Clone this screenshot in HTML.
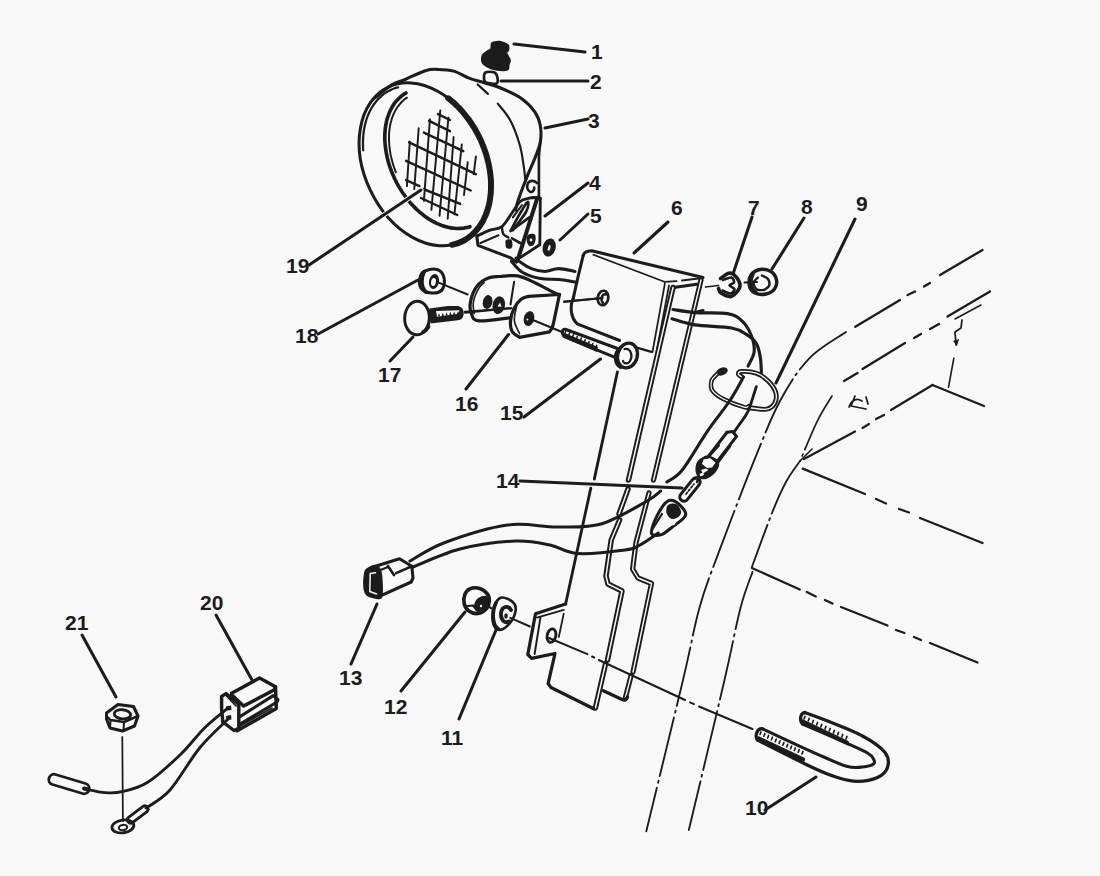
<!DOCTYPE html>
<html><head><meta charset="utf-8"><style>
html,body{margin:0;padding:0;background:#f8f8f8;}
svg{display:block;}
text{font-family:"Liberation Sans",sans-serif;font-weight:bold;fill:#1c1c1c;}
</style></head><body>
<svg width="1100" height="876" viewBox="0 0 1100 876">
<rect width="1100" height="876" fill="#f8f8f8"/>
<g fill="none" stroke="#1c1c1c" stroke-linecap="round" stroke-linejoin="round">
<ellipse cx="425.1" cy="164.3" rx="60.6" ry="85.5" transform="rotate(-25.5 425.1 164.3)" stroke-width="3.05" />
<path d="M448.3,98.3 C448.9,98.7 450.7,100.2 451.9,101.2 C453,102.2 454.2,103.2 455.4,104.3 C456.5,105.4 457.7,106.5 458.8,107.7 C459.9,108.8 461,110 462.1,111.2 C463.1,112.5 464.2,113.7 465.2,115 C466.2,116.3 467.2,117.6 468.2,118.9 C469.2,120.2 470.2,121.6 471.1,123 C472,124.3 472.9,125.7 473.8,127.2 C474.7,128.6 475.5,130 476.3,131.5 C477.2,133 477.9,134.5 478.7,136 C479.5,137.5 480.2,139 480.9,140.5 C481.6,142 482.2,143.6 482.8,145.2 C483.5,146.7 484.1,148.3 484.6,149.9 C485.2,151.4 485.7,153 486.2,154.6 C486.7,156.2 487.1,157.8 487.5,159.4 C488,161 488.3,162.6 488.7,164.2 C489,165.8 489.3,167.4 489.6,169 C489.9,170.6 490.1,172.2 490.3,173.8 C490.5,175.4 490.6,177 490.8,178.6 C490.9,180.1 491,181.7 491,183.3 C491,184.8 491,186.4 491,187.9 C491,189.4 490.9,191 490.8,192.5 C490.7,194 490.5,195.5 490.3,196.9 C490.1,198.4 489.9,199.8 489.7,201.3 C489.4,202.7 489.1,204.1 488.8,205.5 C488.4,206.9 488,208.2 487.6,209.6 C487.2,210.9 486.8,212.2 486.3,213.5 C485.8,214.7 485.3,216 484.7,217.2 C484.2,218.4 483.6,219.6 483,220.8 C482.3,221.9 481.7,223.1 481,224.1 C480.3,225.2 479.6,226.3 478.8,227.3 C478.1,228.3 477.3,229.3 476.5,230.2 C475.7,231.2 474.8,232.1 474,232.9 C473.1,233.8 472.2,234.6 471.3,235.4 C470.4,236.2 469.4,236.9 468.4,237.6 C467.4,238.3 466.4,239 465.4,239.6 C464.4,240.2 463.3,240.8 462.3,241.3 C461.2,241.8 460.1,242.3 459,242.7 C457.9,243.2 456.7,243.6 455.6,243.9 C454.4,244.2 452.7,244.6 452.1,244.8" stroke-width="5.95" />
<path d="M469.9,226.7 C469.5,226.8 468,227.3 467,227.5 C466,227.7 465,227.9 463.9,228.1 C462.9,228.2 461.8,228.3 460.8,228.4 C459.7,228.5 458.7,228.5 457.6,228.5 C456.5,228.5 455.4,228.4 454.3,228.3 C453.2,228.2 452.1,228.1 451,227.9 C449.9,227.7 448.8,227.5 447.7,227.2 C446.5,226.9 445.4,226.6 444.3,226.3 C443.2,225.9 442,225.5 440.9,225.1 C439.8,224.7 438.6,224.2 437.5,223.7 C436.4,223.2 435.3,222.6 434.1,222 C433,221.5 431.9,220.8 430.8,220.2 C429.7,219.5 428.6,218.8 427.5,218.1 C426.4,217.3 425.3,216.6 424.2,215.8 C423.2,214.9 422.1,214.1 421,213.2 C420,212.4 418.9,211.5 417.9,210.5 C416.9,209.6 415.9,208.6 414.9,207.6 C413.9,206.6 412.9,205.6 411.9,204.5 C411,203.5 410,202.4 409.1,201.3 C408.2,200.2 407.3,199 406.4,197.9 C405.5,196.7 404.6,195.5 403.8,194.3 C402.9,193.1 402.1,191.9 401.3,190.6 C400.5,189.4 399.7,188.1 399,186.9 C398.2,185.6 397.5,184.3 396.8,183 C396.1,181.6 395.5,180.3 394.8,179 C394.2,177.6 393.6,176.3 393,174.9 C392.4,173.6 391.8,172.2 391.3,170.8 C390.8,169.4 390.3,168 389.8,166.6 C389.4,165.2 388.9,163.8 388.5,162.4 C388.1,161 387.8,159.6 387.4,158.2 C387.1,156.8 386.8,155.4 386.5,154 C386.2,152.6 386,151.2 385.8,149.8 C385.6,148.5 385.4,147.1 385.3,145.7 C385.1,144.3 385,142.9 384.9,141.6 C384.9,140.2 384.8,138.9 384.8,137.5 C384.8,136.2 384.8,134.9 384.9,133.5 C385,132.2 385.1,130.9 385.2,129.7 C385.3,128.4 385.5,127.1 385.7,125.9 C385.9,124.6 386.1,123.4 386.4,122.2 C386.6,121 386.9,119.8 387.3,118.7 C387.6,117.5 388,116.4 388.4,115.3 C388.7,114.2 389.2,113.1 389.6,112 C390.1,111 390.6,110 391.1,109 C391.6,108 392.2,107 392.7,106.1 C393.3,105.1 393.9,104.2 394.5,103.4 C395.2,102.5 395.8,101.7 396.5,100.9 C397.2,100.1 397.9,99.3 398.7,98.6 C399.4,97.8 400.2,97.1 401,96.5 C401.8,95.8 402.6,95.2 403.4,94.6 C404.3,94 405.6,93.3 406,93" stroke-width="3.65" />
<path d="M395.9,172.3 C395.6,171.5 394.8,169.3 394.2,167.8 C393.7,166.2 393.2,164.7 392.8,163.2 C392.3,161.7 391.9,160.2 391.5,158.6 C391.2,157.1 390.8,155.6 390.5,154.1 C390.3,152.6 390,151.1 389.8,149.5 C389.6,148 389.4,146.5 389.3,145.1 C389.2,143.6 389.1,142.1 389,140.6 C389,139.2 389,137.7 389,136.3 C389,134.9 389.1,133.5 389.2,132.1 C389.3,130.7 389.5,129.3 389.7,128 C389.9,126.6 390.1,125.3 390.4,124 C390.7,122.7 391,121.4 391.4,120.2 C391.7,119 392.1,117.8 392.6,116.6 C393,115.4 393.5,114.3 394,113.2 C394.5,112.1 395.1,111 395.7,110 C396.2,109 396.9,108 397.5,107 C398.2,106.1 398.9,105.1 399.6,104.3 C400.3,103.4 401.1,102.6 401.9,101.8 C402.6,101 403.5,100.3 404.3,99.6 C405.2,98.9 406.5,98 407,97.7" stroke-width="1.95" />
<path d="M363.2,150.3 C363.2,149.5 363,147.2 363,145.7 C362.9,144.1 362.9,142.6 363,141.1 C363,139.6 363.1,138.1 363.2,136.6 C363.3,135.2 363.5,133.7 363.6,132.3 C363.8,130.8 364.1,129.4 364.3,128 C364.6,126.6 364.9,125.2 365.2,123.9 C365.6,122.5 365.9,121.2 366.3,119.9 C366.8,118.6 367.2,117.3 367.7,116.1 C368.2,114.9 368.7,113.6 369.2,112.5 C369.8,111.3 370.4,110.1 371,109 C371.6,107.9 372.2,106.8 372.9,105.8 C373.6,104.7 374.3,103.7 375.1,102.7 C375.8,101.8 376.6,100.8 377.4,99.9 C378.2,99 379,98.2 379.9,97.4 C380.8,96.5 381.7,95.8 382.6,95 C383.5,94.3 384.4,93.6 385.4,92.9 C386.4,92.3 387.4,91.7 388.4,91.1 C389.4,90.6 390.4,90 391.5,89.6 C392.6,89.1 393.6,88.7 394.7,88.3 C395.8,87.9 397.5,87.4 398.1,87.3" stroke-width="2.25" />
<path d="M375.1,97.7 C377.8,95.6 386.4,88.1 391.4,85.1 C396.4,82.1 399.5,81.9 405.2,79.5 C410.9,77.1 419.8,72.4 425.3,70.7 C430.8,69 433.3,69.3 438,69.4 C442.7,69.5 448.6,69.7 453.7,71.1 C458.8,72.5 463.6,76 468.5,77.9 C473.4,79.8 478.2,80.9 483.4,82.5 C488.5,84.1 493.1,84.9 499.4,87.5 C505.7,90.1 515.2,94.1 521.1,98.2 C527,102.3 531.6,107.3 534.8,111.9 C538,116.5 539.4,120.6 540.3,125.6 C541.2,130.6 541.2,136.6 540.3,142.1 C539.4,147.6 537.1,152.6 534.8,158.5 C532.5,164.4 529.3,170.8 526.6,177.7 C523.9,184.5 520.2,194.2 518.4,199.6 C516.6,205 516.1,208.3 515.6,210" stroke-width="3.05" />
<line x1="477.7" y1="84.5" x2="487.9" y2="93.9" stroke-width="2.25" />
<path d="M497.8,103.7 C499.9,106.4 506.5,113.2 510.1,120.1 C513.8,126.9 517.4,137 519.7,144.8 C522,152.6 522.9,161 523.8,166.7 C524.7,172.4 525,176.9 525.2,179" stroke-width="2.15" />
<path d="M540.3,142 L538.9,156 L538.9,197" stroke-width="2.65" />
<path d="M491.4,42.6 C492.9,41.3 496.5,40.5 499.4,40.8 C502.2,41.1 506.9,42.9 508.5,44.5 C510.1,46.1 509.3,49.1 509.1,50.5 C508.9,51.9 507.1,51.5 507.4,53 C507.7,54.5 510.4,57.7 510.8,59.7 C511.2,61.7 510.1,63.2 509.6,65 C509.1,66.8 510,69.5 507.9,70.5 C505.8,71.5 500.4,71.2 497.1,70.8 C493.8,70.4 490.6,69.3 488,68 C485.4,66.7 482.8,65.2 481.7,63.1 C480.6,61 480.8,57.2 481.7,55.1 C482.6,53 485.4,51.6 486.8,50.5 C488.2,49.4 489.4,49.8 490.2,48.5 C491,47.2 489.9,43.9 491.4,42.6 Z" fill="#1c1c1c" stroke="none" />
<path d="M485.5,72.5 C487.2,71.5 492,71.5 494,72.3 C496,73 496.9,75.1 497.3,77 C497.7,78.9 498.4,82.6 496.5,83.5 C494.6,84.4 488.1,83.4 486,82.5 C483.9,81.6 484.1,79.7 484,78 C483.9,76.3 483.8,73.5 485.5,72.5 Z" stroke-width="2.65" />
<line x1="409.8" y1="141.6" x2="406.9" y2="186.1" stroke-width="1.95" />
<line x1="418.7" y1="128.2" x2="414.3" y2="189" stroke-width="1.95" />
<line x1="429.9" y1="119.3" x2="423.9" y2="200.9" stroke-width="1.95" />
<line x1="440.3" y1="110.4" x2="431.4" y2="209.8" stroke-width="1.95" />
<line x1="448.4" y1="117.8" x2="439.5" y2="215.8" stroke-width="1.95" />
<line x1="453.6" y1="137.1" x2="447.7" y2="218.7" stroke-width="1.95" />
<line x1="461.8" y1="144.5" x2="454.4" y2="214.3" stroke-width="1.95" />
<line x1="467.7" y1="162.3" x2="464" y2="195" stroke-width="1.95" />
<line x1="475.9" y1="156.4" x2="473.7" y2="174.2" stroke-width="1.95" />
<line x1="438" y1="114.1" x2="450" y2="120" stroke-width="2.45" />
<line x1="429.1" y1="120.8" x2="450" y2="131.2" stroke-width="2.45" />
<line x1="423.9" y1="132.6" x2="463.3" y2="151.2" stroke-width="2.45" />
<line x1="409.1" y1="142.3" x2="475.9" y2="174.2" stroke-width="2.45" />
<line x1="406.1" y1="160.8" x2="470.7" y2="190.5" stroke-width="2.45" />
<line x1="406.1" y1="180.1" x2="419.5" y2="186.1" stroke-width="2.45" />
<line x1="423.2" y1="189" x2="460.3" y2="203.9" stroke-width="2.45" />
<line x1="421" y1="198" x2="457.3" y2="215" stroke-width="2.45" />
<path d="M540.3,198.2 L539.8,244.8 L520.2,257.6" stroke-width="2.85" />
<path d="M533,197.5 L540.3,198.2" stroke-width="2.85" />
<line x1="537" y1="199" x2="517.5" y2="260.5" stroke-width="4.05" />
<path d="M477,236 C479.2,235 485.9,231.8 490,230.2 C494.1,228.6 498.2,229.5 501.9,226.6 C505.6,223.7 508.9,217.2 512,213 C515,208.8 517.3,204 520.2,201.5 C523.1,199 526.4,198.9 529.3,198.2 C532.2,197.5 536.1,197.5 537.5,197.3" stroke-width="2.85" />
<path d="M501.9,226.6 C502.1,227.8 502.1,232.1 503.2,233.9 C504.3,235.7 507.4,236.9 508.3,237.5" stroke-width="2.45" />
<path d="M510.5,231 C511.8,228.7 515.3,221.7 518,217 C520.7,212.3 524.9,204.9 526.6,202.8 C528.3,200.7 528.5,203 528.4,204.5 C528.3,206 527.6,209.1 526,212 C524.4,214.9 521.2,219 519,222 C516.8,225 513.9,228.8 512.9,230.2" stroke-width="2.65" />
<line x1="512.9" y1="217.4" x2="522" y2="205" stroke-width="2.05" />
<line x1="511.9" y1="230.2" x2="529.3" y2="217.4" stroke-width="2.65" />
<path d="M506,240 C506.9,239.2 509.9,238.8 511,239.5 C512.1,240.2 512.5,243 512.5,244.5 C512.5,246 512,247.9 511,248.5 C510,249.1 507.4,248.8 506.5,248 C505.6,247.2 505.6,245.3 505.5,244 C505.4,242.7 505.1,240.8 506,240 Z" fill="#1c1c1c" stroke="none" />
<line x1="512" y1="238.4" x2="520.2" y2="243" stroke-width="2.65" />
<path d="M528,235 C529.2,233.8 532.7,233.5 534,234 C535.3,234.5 535.7,236.2 535.7,238 C535.7,239.8 535,243.2 534,244.5 C533,245.8 530.7,246.6 529.5,246 C528.3,245.4 527,242.8 526.8,241 C526.5,239.2 526.8,236.2 528,235 Z" fill="#1c1c1c" stroke="none" />
<circle cx="531" cy="240" r="1.4" fill="#f8f8f8" stroke="none"/>
<path d="M476.8,236.2 L478,245.3 L510.1,257.6 L516.5,262.2" stroke-width="3.05" />
<line x1="480.5" y1="243" x2="498.5" y2="235.2" stroke-width="2.05" />
<ellipse cx="549.2" cy="247.5" rx="6.4" ry="9.2" transform="rotate(15 549.2 247.5)" fill="#1c1c1c" stroke="none"/>
<ellipse cx="549.2" cy="247.8" rx="1.3" ry="3" transform="rotate(15 549.2 247.8)" fill="#f8f8f8" stroke="none"/>
<path d="M536.9,183 C535,180.5 529.5,179.5 527.8,183.5 C526.5,186.5 527,190.5 530.4,191.9 C532.5,192.5 534.5,190 534.2,187.5" stroke-width="2.65" />
<line x1="529.4" y1="172" x2="524.5" y2="184" stroke-width="1.85" />
<path d="M583.2,255.5 Q584.5,251 591.7,250.8 L703,277.5" stroke-width="3.05" />
<path d="M583.2,255.5 C582.3,259.1 579.7,269.8 578,277 C576.3,284.2 574,295.1 573.2,298.7" stroke-width="3.05" />
<path d="M573.2,298.7 C570,305 570,318 577.8,324.2 L619.6,340.5" stroke-width="3.05" />
<line x1="593.3" y1="254.7" x2="664.4" y2="281.7" stroke-width="1.75" />
<path d="M664.4,281.9 L676.6,281.2" stroke-width="1.75" />
<path d="M682,280.5 L698.5,278.5" stroke-width="2.05" />
<path d="M673.8,287.4 L698.5,284" stroke-width="3.05" />
<ellipse cx="603" cy="298" rx="5.3" ry="7.3" transform="rotate(10 603 298)" stroke-width="2.65" />
<path d="M606,294.5 C602,293.5 600,299 603,303" stroke-width="2.45" />
<line x1="563.9" y1="301.8" x2="602.5" y2="298" stroke-width="2.05" />
<line x1="664.9" y1="283.3" x2="652.5" y2="352" stroke-width="1.75" />
<line x1="669" y1="285.5" x2="656.5" y2="352" stroke-width="1.75" />
<path d="M673,287.5 L628.5,480" stroke-width="5.45" />
<path d="M673,287.5 L628.5,480" stroke-width="1.5" stroke="#f8f8f8"/>
<path d="M628,489 L619,514" stroke-width="5.45" />
<path d="M628,489 L619,514" stroke-width="1.5" stroke="#f8f8f8"/>
<path d="M619.6,520 L611.2,540 L606,576 L608,584 L622,591 L607.5,660" stroke-width="5.45" />
<path d="M619.6,520 L611.2,540 L606,576 L608,584 L622,591 L607.5,660" stroke-width="1.5" stroke="#f8f8f8"/>
<path d="M605.5,664 L595.4,708" stroke-width="5.45" />
<path d="M605.5,664 L595.4,708" stroke-width="1.5" stroke="#f8f8f8"/>
<path d="M701,280 L653.5,480" stroke-width="5.25" />
<path d="M701,280 L653.5,480" stroke-width="1.4" stroke="#f8f8f8"/>
<path d="M649,493 L636,542.6 L632.6,569.1 L638,578 L651.5,583.5 L633,672" stroke-width="5.25" />
<path d="M649,493 L636,542.6 L632.6,569.1 L638,578 L651.5,583.5 L633,672" stroke-width="1.4" stroke="#f8f8f8"/>
<path d="M631,676 L625.1,698.8" stroke-width="5.25" />
<path d="M631,676 L625.1,698.8" stroke-width="1.4" stroke="#f8f8f8"/>
<line x1="617.4" y1="372" x2="594.3" y2="479.1" stroke-width="2.85" />
<line x1="590.8" y1="488.1" x2="565.6" y2="604" stroke-width="2.85" />
<path d="M565.6,604 L535.5,613.7 L527.8,654.5 L531.6,658.4 L555,653.5 L548.1,683.6 L551,687.5 L593.7,708.8" stroke-width="3.25" />
<line x1="537" y1="617.6" x2="563.7" y2="609.9" stroke-width="1.95" />
<line x1="540.4" y1="617.6" x2="534.6" y2="654" stroke-width="1.95" />
<line x1="563.7" y1="613.7" x2="558.8" y2="637" stroke-width="1.75" />
<ellipse cx="551.5" cy="635.6" rx="4.3" ry="6.8" transform="rotate(12 551.5 635.6)" stroke-width="2.85" />
<path d="M603.4,690.8 L622,699.5 Q626,701 627.5,697" stroke-width="3.45" />
<path d="M616.8,348.2 L566,329.5 Q561.8,328.5 562.5,333.5 Q563,336 565,336.8 L615,357.3" stroke-width="3.05" />
<path d="M563.5,332.5 L598,347 L597,352 L564.5,338 Z" fill="#1c1c1c" stroke="none" />
<line x1="565.0" y1="333.2" x2="565.8" y2="331.0" stroke-width="1.55" />
<line x1="568.875" y1="334.97499999999997" x2="569.675" y2="332.775" stroke-width="1.55" />
<line x1="572.75" y1="336.75" x2="573.55" y2="334.55" stroke-width="1.55" />
<line x1="576.625" y1="338.525" x2="577.425" y2="336.325" stroke-width="1.55" />
<line x1="580.5" y1="340.3" x2="581.3" y2="338.1" stroke-width="1.55" />
<line x1="584.375" y1="342.075" x2="585.175" y2="339.875" stroke-width="1.55" />
<line x1="588.25" y1="343.84999999999997" x2="589.05" y2="341.65" stroke-width="1.55" />
<line x1="592.125" y1="345.625" x2="592.925" y2="343.425" stroke-width="1.55" />
<line x1="596.0" y1="347.4" x2="596.8" y2="345.2" stroke-width="1.55" />
<ellipse cx="627.5" cy="355.5" rx="9.8" ry="12.6" transform="rotate(15 627.5 355.5)" stroke-width="3.25" />
<path d="M620,348 C613.5,353 614,364 620.5,367.5" stroke-width="3.05" />
<path d="M624.5,349 C631,347.5 633,356 630,361 C628,364.5 624,364 623,361" stroke-width="2.25" />
<line x1="635.9" y1="347.3" x2="651.4" y2="351.8" stroke-width="2.25" />
<path d="M510.5,317.8 C505.2,318.3 485.1,321.6 478.6,320.9 C472.1,320.2 472.8,316.8 471.4,313.6 C470,310.4 469.6,306.3 470.5,301.8 C471.4,297.3 473.9,290.3 476.8,286.4 C479.7,282.5 483.8,279.8 487.7,278.2 C491.6,276.6 495,276.9 500,276.5 C505,276.1 511.7,274.8 517.7,275.9 C523.7,277 529.8,280.4 535.9,283.2 C542,286 550.2,290.8 554.1,292.7 C558,294.6 558.6,294.2 559.5,294.5" stroke-width="3.25" />
<path d="M474.1,313.6 C474,311.6 472.6,306 473.4,301.8 C474.1,297.6 476.8,291.8 478.6,288.6 C480.4,285.4 483.2,283.7 484.1,282.7" stroke-width="1.65" />
<path d="M528.6,296.4 C527.4,296.8 523.8,297.1 521.4,299.1 C519,301.1 515.9,304.6 514.1,308.2 C512.3,311.8 510.8,317 510.5,320.9 C510.2,324.8 510.8,329.1 512.3,331.8 C513.8,334.5 518.3,336.4 519.5,337.3 L549.5,331.8 Q552,329 553.2,324.5 L559.5,294.5 Z" stroke-width="3.25" />
<path d="M516.5,306.4 C516.1,308.8 513.9,316.4 514.4,320.9 C514.9,325.4 518.6,331.5 519.5,333.6" stroke-width="1.65" />
<ellipse cx="487.6" cy="302" rx="4.8" ry="7" transform="rotate(12 487.6 302)" fill="#1c1c1c" stroke="none"/>
<ellipse cx="498.8" cy="305.2" rx="6.2" ry="9" transform="rotate(12 498.8 305.2)" fill="#1c1c1c" stroke="none"/>
<path d="M497.5,306.5 L500,302.5 L501.5,306.8 Z" fill="#f8f8f8" stroke="none"/>
<ellipse cx="529" cy="318.6" rx="5.2" ry="7.5" transform="rotate(15 529 318.6)" fill="#1c1c1c" stroke="none"/>
<circle cx="527.5" cy="319.5" r="1" fill="#f8f8f8" stroke="none"/>
<line x1="514.1" y1="281.8" x2="510.5" y2="304.5" stroke-width="2.05" />
<line x1="465" y1="311.8" x2="510.5" y2="308.2" stroke-width="2.05" />
<line x1="528.6" y1="318.2" x2="561.4" y2="331.8" stroke-width="2.05" />
<line x1="564.1" y1="301.8" x2="602.5" y2="298" stroke-width="2.05" />
<ellipse cx="417" cy="318" rx="12.3" ry="16.8" transform="rotate(3 417 318)" stroke-width="2.95" />
<path d="M421.5,331 C425,329 427.5,326 429,322 L430.5,327 C428.5,331 425,334 420.5,335 Z" fill="#1c1c1c" stroke="none" />
<path d="M429.3,308.4 L447.8,306.1 L458,306 Q464,307 463.7,314 Q463,320 458,320.2 L430.6,323.5 Q428.5,316 429.3,308.4 Z" fill="#1c1c1c" stroke="none" />
<path d="M436,311 L459.5,310.3 L458.5,313.8 L437,316.8 Z" fill="#f8f8f8" stroke="none"/>
<path d="M437.8,316.6 L440.2,316.3 L439.0,313.2 Z" fill="#1c1c1c" stroke="none"/>
<path d="M441.6,316.15000000000003 L444.0,315.85 L442.8,312.75 Z" fill="#1c1c1c" stroke="none"/>
<path d="M445.40000000000003,315.70000000000005 L447.8,315.40000000000003 L446.6,312.3 Z" fill="#1c1c1c" stroke="none"/>
<path d="M449.2,315.25 L451.59999999999997,314.95 L450.4,311.84999999999997 Z" fill="#1c1c1c" stroke="none"/>
<path d="M453.0,314.8 L455.4,314.5 L454.2,311.4 Z" fill="#1c1c1c" stroke="none"/>
<path d="M456.8,314.35 L459.2,314.05 L458.0,310.95 Z" fill="#1c1c1c" stroke="none"/>
<line x1="465" y1="312.7" x2="511.4" y2="308.2" stroke-width="1.95" />
<path d="M425,271 C427.8,269.9 433.9,268.7 437,269.5 C440.1,270.3 442.4,273.1 443.5,276 C444.6,278.9 444.4,284.2 443.5,287 C442.6,289.8 440.9,291.7 438,292.5 C435.1,293.3 429,293.1 426,292 C423,290.9 420.9,288.7 420,286 C419.1,283.3 419.7,278.5 420.5,276 C421.3,273.5 422.2,272.1 425,271 Z" stroke-width="3.05" />
<ellipse cx="434" cy="281.5" rx="5" ry="7.5" transform="rotate(10 434 281.5)" fill="#1c1c1c" stroke="none"/>
<ellipse cx="433.5" cy="282" rx="2.4" ry="4" transform="rotate(10 433.5 282)" fill="#f8f8f8" stroke="none"/>
<path d="M424,272 C420.5,278 421,288 426,292" stroke-width="3.85" />
<line x1="436.8" y1="281.8" x2="467.7" y2="294.5" stroke-width="1.95" />
<path d="M516,258 C516.6,258.6 516.9,259.6 519.5,261.4 C522.1,263.2 527.1,266.9 531.4,268.6 C535.6,270.3 540.5,271.4 545,271.4 C549.5,271.4 553.6,268.6 558.6,268.6 C563.6,268.6 572.3,270.9 575,271.4" stroke-width="3.05" />
<path d="M511.4,261.4 C513.2,263.2 517.4,269.4 522.3,272.3 C527.1,275.2 534.5,277.4 540.5,278.6 C546.5,279.8 552.6,278.9 558.6,279.5 C564.6,280.1 573.8,281.8 576.8,282.3" stroke-width="3.05" />
<path d="M720.5,278.5 C722.1,277.6 727.1,272.8 730,273 C732.9,273.2 736.4,277 738,279.5 C739.6,282 740.7,285.2 739.5,288 C738.3,290.8 734.1,295.7 731,296.5 C727.9,297.3 723.1,294.3 721,293 C718.9,291.7 718.9,289.2 718.5,288.5" stroke-width="3.65" />
<path d="M723,280 C724.4,279.6 729.7,277.1 731.5,277.5 C733.3,277.9 734.3,281.2 734,282.5 C733.7,283.8 729.4,284.4 729.5,285.5 C729.6,286.6 734.3,287.7 734.5,289 C734.7,290.3 732.5,293.2 730.5,293.5 C728.5,293.8 723.8,291 722.5,290.5" stroke-width="2.65" />
<line x1="705.5" y1="287" x2="718.5" y2="285.5" stroke-width="1.75" />
<path d="M760,269.5 C763.3,268.9 768.2,269.8 771,271.5 C773.8,273.2 775.9,277.1 776.5,280 C777.1,282.9 776.2,286.7 774.5,289 C772.8,291.3 769.2,293.3 766,294 C762.8,294.7 757.8,294.3 755,293 C752.2,291.7 750.2,289 749.5,286 C748.8,283 749.2,277.8 751,275 C752.8,272.2 756.7,270.1 760,269.5 Z" stroke-width="3.45" />
<path d="M753,274 C749.5,280 750,288 756,292.5" stroke-width="3.65" />
<path d="M762,275.5 C763,276.1 766.8,277.2 768,279 C769.2,280.8 769.7,284.2 769,286 C768.3,287.8 764.8,289.3 764,290" stroke-width="2.45" />
<path d="M758,277.5 C757.2,278.3 753.7,280.5 753.5,282.5 C753.3,284.5 755.2,288.2 757,289.5 C758.8,290.8 762.8,289.9 764,290" stroke-width="2.25" />
<line x1="744.5" y1="282.5" x2="757" y2="282" stroke-width="1.95" />
<path d="M673,309.5 C676.6,310 685.6,311.9 694.7,312.6 C703.8,313.3 719.6,312.2 727.5,313.6 C735.4,315 737.9,317.2 741.9,320.8 C745.9,324.4 749.2,330.1 751.2,335.2 C753.2,340.3 754.7,346.5 754.2,351.6 C753.7,356.7 749.1,363.6 748.1,366" stroke-width="3.15" />
<path d="M672,318.8 C675.8,319.8 684.8,323.4 694.7,324.9 C704.6,326.4 723.1,326.4 731.6,328 C740.1,329.6 741.9,331.6 746,334.2 C750.1,336.8 753.9,339.5 756.3,343.4 C758.7,347.3 759.5,352.9 760.4,357.8 C761.2,362.7 761.2,370.5 761.4,373" stroke-width="3.15" />
<path d="M703,310.5 L694.7,312.6" stroke-width="3.15" />
<path d="M748,407.5 C751.1,407.8 762.1,409.9 766.6,409.2 C771.1,408.4 773.3,405.8 774.8,403 C776.3,400.2 776.8,396.3 775.8,392.7 C774.8,389.1 771.9,384.6 768.6,381.4 C765.4,378.1 760.9,374.8 756.3,373.2 C751.7,371.6 744,371.3 741,371.5 C738,371.7 738.3,373.6 738.5,374.5 C738.7,375.4 741.4,376.6 742,377" stroke-width="4.85" />
<path d="M748,407.5 C751.1,407.8 762.1,409.9 766.6,409.2 C771.1,408.4 773.3,405.8 774.8,403 C776.3,400.2 776.8,396.3 775.8,392.7 C774.8,389.1 771.9,384.6 768.6,381.4 C765.4,378.1 760.9,374.8 756.3,373.2 C751.7,371.6 744,371.3 741,371.5 C738,371.7 738.3,373.6 738.5,374.5 C738.7,375.4 741.4,376.6 742,377" stroke-width="1.3" stroke="#f8f8f8"/>
<ellipse cx="722" cy="371.5" rx="6" ry="3.8" transform="rotate(-20 722 371.5)" fill="#1c1c1c" stroke="none"/>
<path d="M717,374 C716.1,375.2 712.2,378.2 711.5,381 C710.8,383.8 710.5,387.7 712.5,390.7 C714.5,393.7 718.1,396.3 723.4,399 C728.6,401.7 739.7,405.9 744,407.1 C748.3,408.3 748.2,406.2 749,406" stroke-width="4.45" />
<path d="M717,374 C716.1,375.2 712.2,378.2 711.5,381 C710.8,383.8 710.5,387.7 712.5,390.7 C714.5,393.7 718.1,396.3 723.4,399 C728.6,401.7 739.7,405.9 744,407.1 C748.3,408.3 748.2,406.2 749,406" stroke-width="1.2" stroke="#f8f8f8"/>
<path d="M743.5,377 C741.2,381 735.7,391.9 729.6,401 C723.5,410.1 714.9,420.3 707,431.8 C699.1,443.3 689,461.6 682.3,470 C675.6,478.4 669.4,480 666.8,482" stroke-width="3.05" />
<path d="M756.3,386.6 C754.9,390.7 751,404.8 748.1,411.2 C745.2,417.6 741.4,421.5 739,425 C736.6,428.5 734.7,431.1 733.8,432.3" stroke-width="2.85" />
<path d="M727,432.3 L732.5,431.6 L736.6,436.4 L717.4,461.1" stroke-width="3.05" />
<path d="M727,432.3 L708.5,456.3" stroke-width="3.05" />
<path d="M703,457 C705,455.9 706.6,455 709,455.5 C711.4,456 715.8,458.2 717.5,460 C719.2,461.8 719.6,463.7 719,466 C718.4,468.3 716.2,471.8 714,474 C711.8,476.2 708.5,478.3 706,479 C703.5,479.7 700.8,479.3 699,478 C697.2,476.7 695.8,473.7 695.5,471 C695.2,468.3 695.8,464.3 697,462 C698.2,459.7 701,458.1 703,457 Z" fill="#1c1c1c" stroke="none" />
<path d="M703.5,459.5 L710,458 L715.5,462.5 L712,467.5 L707,468 L702,464 Z" fill="#f8f8f8" stroke="none"/>
<path d="M701,470 L706,468.5 L708.5,470 L703,473.5 Z" fill="#f8f8f8" stroke="none"/>
<path d="M699.5,474 L703,472.5 L704,475 L700.5,476.5 Z" fill="#f8f8f8" stroke="none"/>
<path d="M687.3,499.6 L699.3,484.6 A4.2,4.2 0 0 0 692.7,479.4 L680.7,494.4 A4.2,4.2 0 0 0 687.3,499.6 Z" stroke-width="3.05" />
<path d="M686,494 L694,484" stroke-width="1.75" stroke-dasharray="2 2"/>
<path d="M694.5,479 L699,476.5 L697,482" stroke-width="2.45" />
<path d="M718.5,445.5 L708,457" stroke-width="2.85" />
<path d="M730,446 L717.5,463" stroke-width="2.85" />
<path d="M666.3,502.1 C669.2,499.6 671.4,499.9 674.3,501 C677.1,502.1 681.5,506.7 683.4,509 C685.3,511.3 686.1,512.8 685.7,514.7 C685.3,516.6 683.4,518.3 681.1,520.4 C678.8,522.5 675,524.9 672,527.2 C669,529.5 665.7,532.8 662.8,534.1 C659.9,535.4 656.7,535.6 654.8,535.2 C652.9,534.8 651,535 651.4,531.8 C651.8,528.6 654.6,520.8 657.1,515.8 C659.6,510.8 663.4,504.6 666.3,502.1 Z" stroke-width="3.05" />
<path d="M668,505 C669.6,503.5 673.8,503 676,504 C678.2,505 680.5,508.9 681,511 C681.5,513.1 680.5,515.2 679,516.5 C677.5,517.8 674.1,519.6 672,519 C669.9,518.4 667.2,515.3 666.5,513 C665.8,510.7 666.4,506.5 668,505 Z" fill="#1c1c1c" stroke="none" />
<path d="M672.5,520 L678.5,517.5 L674.5,525 L669,526 Z" fill="#f8f8f8" stroke="none"/>
<line x1="662" y1="514" x2="652.5" y2="529" stroke-width="2.25" />
<path d="M410,561 C415.8,557.9 428.8,548.5 445,542.5 C461.2,536.5 488.8,527.6 507.5,525 C526.2,522.4 541.9,527.2 557.5,527 C573.1,526.8 586.2,528.2 601,524 C615.8,519.8 636.3,507 646.3,501.5 C656.2,496 658.3,492.8 660.7,491" stroke-width="3.05" />
<path d="M413,567 C420.8,564 443,553.3 460,549 C477,544.7 500,541.7 515,541 C530,540.3 539.6,542.9 550,545 C560.4,547.1 565,552.7 577.5,553.5 C590,554.3 614.6,551.4 625,550 C635.4,548.6 634.5,547.8 640,545 C645.5,542.2 655.2,535 658.3,533" stroke-width="3.05" />
<path d="M367.3,569.7 C369,568.4 373.3,565.8 375.5,566.2 C377.7,566.7 379.3,567.7 380.3,572.4 C381.3,577.1 381.8,590.1 381.4,594.3 C380.9,598.5 380,597.7 377.6,597.7 C375.2,597.7 369.5,596.2 367.3,594.3 C365.1,592.4 364.9,589.5 364.6,586.1 C364.3,582.7 364.9,576.5 365.3,573.8 C365.8,571.1 365.6,571 367.3,569.7 Z" fill="#1c1c1c" stroke="none" />
<path d="M367.3,569.7 C369,568.4 373.3,565.8 375.5,566.2 C377.7,566.7 379.3,567.7 380.3,572.4 C381.3,577.1 381.8,590.1 381.4,594.3 C380.9,598.5 380,597.7 377.6,597.7 C375.2,597.7 369.5,596.2 367.3,594.3 C365.1,592.4 364.9,589.5 364.6,586.1 C364.3,582.7 364.9,576.5 365.3,573.8 C365.8,571.1 365.6,571 367.3,569.7 Z" stroke-width="2.85" />
<path d="M375.5,572.8 L370.2,573.5 L369.8,591.5 L376.5,594" stroke-width="1.5" stroke="#f8f8f8"/>
<path d="M375.5,566.2 L399.5,558.7 L411.8,566.2 L413,578 L411.2,582 L381,595.7" stroke-width="3.05" />
<line x1="396.1" y1="573.1" x2="411.8" y2="566.2" stroke-width="2.65" />
<path d="M387.9,566 L394,575" stroke-width="2.65" />
<line x1="378" y1="571" x2="388" y2="567" stroke-width="1.95" />
<path d="M469.8,588.9 C472.3,587.8 476.8,587.6 479.7,588.4 C482.6,589.2 485.7,591.7 487.3,593.8 C488.9,595.9 489.4,598.5 489.2,601 C489,603.5 487.9,607 486,609.1 C484.1,611.2 480.8,613.2 477.9,613.5 C475,613.8 471.2,612.5 468.9,610.9 C466.6,609.3 464.9,606.4 464.2,603.7 C463.5,601 463.9,597.2 464.8,594.7 C465.7,592.2 467.3,590 469.8,588.9 Z" stroke-width="3.65" />
<path d="M477,599 C479,597.2 483.9,595.3 486,596 C488.1,596.7 489.5,600.8 489.5,603 C489.5,605.2 487.8,607.9 486,609.5 C484.2,611.1 480.5,612.9 478.5,612.5 C476.5,612.1 474.2,609.2 474,607 C473.8,604.8 475,600.8 477,599 Z" fill="#1c1c1c" stroke="none" />
<circle cx="481" cy="606" r="1.2" fill="#f8f8f8" stroke="none"/>
<path d="M467.5,606 L473,605.5 L476,609" stroke-width="2.25" />
<line x1="484.1" y1="603.3" x2="491.4" y2="608.4" stroke-width="1.95" />
<path d="M500,598 C502.3,596.7 505.6,598 508,599 C510.4,600 513.2,601.9 514.5,604 C515.8,606.1 516,608.7 515.5,611.5 C515,614.3 513.6,618.1 511.5,621 C509.4,623.9 505.7,627.8 503,629 C500.3,630.2 497.2,629.7 495.5,628 C493.8,626.3 492.8,622.5 492.5,619 C492.2,615.5 492.8,610.5 494,607 C495.2,603.5 497.7,599.3 500,598 Z" stroke-width="2.65" />
<path d="M496,603 C491.5,612 492.5,625 498,628.5" stroke-width="3.65" />
<path d="M511,610 C508,605 502,606 501,613 C500.5,620 505,624 509,621.5" stroke-width="3.85" />
<ellipse cx="506" cy="616" rx="1.8" ry="2.8" fill="#1c1c1c" stroke="none"/>
<line x1="510.3" y1="617.8" x2="529.9" y2="626.5" stroke-width="1.95" />
<line x1="549.1" y1="638" x2="587.4" y2="654.2" stroke-width="1.95" />
<line x1="592" y1="656.5" x2="594.2" y2="657.5" stroke-width="1.95" />
<line x1="598.8" y1="660" x2="685" y2="700" stroke-width="1.95" />
<line x1="690" y1="702.3" x2="694" y2="704.2" stroke-width="1.95" />
<line x1="699" y1="706.5" x2="752.5" y2="729" stroke-width="1.95" />
<path d="M757.5,740 C766.7,744.6 799.2,761.2 812.5,767.5 C825.8,773.8 830,775.2 837.5,777.5 C845,779.8 850.8,781.3 857.5,781.3 C864.2,781.3 872.5,779.8 877.5,777.5 C882.5,775.2 886.2,771.7 887.5,767.5 C888.8,763.3 889.2,757.8 885,752.5 C880.8,747.2 872.5,741.4 862.5,736 C852.5,730.6 834.6,723.9 825,720 C815.4,716.1 808.3,713.8 805,712.5" stroke-width="3.25" />
<path d="M805,712.5 C800.5,712.5 799,720 802.5,724" stroke-width="3.25" />
<path d="M802.5,724 C809.6,727.1 834.2,737.7 845,742.5 C855.8,747.3 862.8,750.2 867.5,753 C872.2,755.8 872.5,757.2 873.5,759 C874.5,760.8 875.3,762.7 873.5,764 C871.7,765.3 866.8,766.6 862.5,767 C858.2,767.4 853.8,768.1 847.5,766.5 C841.2,764.9 832.9,760.9 825,757.5 C817.1,754.1 810.4,751.1 800,746.3 C789.6,741.5 768.8,731.7 762.5,728.8" stroke-width="3.05" />
<path d="M762.5,728.8 C757,728 754.5,736 757.5,740" stroke-width="3.25" />
<path d="M758.5,738.5 L803,759.5" stroke-width="4.25" />
<line x1="760.0" y1="734.5" x2="761.0" y2="731.9" stroke-width="1.65" />
<line x1="763.8181818181819" y1="736.2727272727273" x2="764.8181818181819" y2="733.6727272727272" stroke-width="1.65" />
<line x1="767.6363636363636" y1="738.0454545454545" x2="768.6363636363636" y2="735.4454545454545" stroke-width="1.65" />
<line x1="771.4545454545455" y1="739.8181818181819" x2="772.4545454545455" y2="737.2181818181818" stroke-width="1.65" />
<line x1="775.2727272727273" y1="741.5909090909091" x2="776.2727272727273" y2="738.9909090909091" stroke-width="1.65" />
<line x1="779.0909090909091" y1="743.3636363636364" x2="780.0909090909091" y2="740.7636363636364" stroke-width="1.65" />
<line x1="782.9090909090909" y1="745.1363636363636" x2="783.9090909090909" y2="742.5363636363636" stroke-width="1.65" />
<line x1="786.7272727272727" y1="746.9090909090909" x2="787.7272727272727" y2="744.3090909090909" stroke-width="1.65" />
<line x1="790.5454545454545" y1="748.6818181818181" x2="791.5454545454545" y2="746.0818181818181" stroke-width="1.65" />
<line x1="794.3636363636364" y1="750.4545454545455" x2="795.3636363636364" y2="747.8545454545455" stroke-width="1.65" />
<line x1="798.1818181818181" y1="752.2272727272727" x2="799.1818181818181" y2="749.6272727272727" stroke-width="1.65" />
<line x1="802.0" y1="754.0" x2="803.0" y2="751.4" stroke-width="1.65" />
<path d="M803,721.5 L847,742.5" stroke-width="3.85" />
<line x1="804.0" y1="719.0" x2="805.0" y2="716.4" stroke-width="1.65" />
<line x1="808.2" y1="721.0" x2="809.2" y2="718.4" stroke-width="1.65" />
<line x1="812.4" y1="723.0" x2="813.4" y2="720.4" stroke-width="1.65" />
<line x1="816.6" y1="725.0" x2="817.6" y2="722.4" stroke-width="1.65" />
<line x1="820.8" y1="727.0" x2="821.8" y2="724.4" stroke-width="1.65" />
<line x1="825.0" y1="729.0" x2="826.0" y2="726.4" stroke-width="1.65" />
<line x1="829.2" y1="731.0" x2="830.2" y2="728.4" stroke-width="1.65" />
<line x1="833.4" y1="733.0" x2="834.4" y2="730.4" stroke-width="1.65" />
<line x1="837.6" y1="735.0" x2="838.6" y2="732.4" stroke-width="1.65" />
<line x1="841.8" y1="737.0" x2="842.8" y2="734.4" stroke-width="1.65" />
<line x1="846.0" y1="739.0" x2="847.0" y2="736.4" stroke-width="1.65" />
<line x1="982.5" y1="250" x2="940" y2="275" stroke-width="2.35" />
<line x1="930" y1="283" x2="924" y2="286.5" stroke-width="2.35" />
<line x1="915" y1="291.5" x2="907.5" y2="295" stroke-width="2.35" />
<line x1="900" y1="300" x2="855.3" y2="326.8" stroke-width="2.35" />
<path d="M846,332 C839.9,336.4 820.2,346.9 809.3,358.3 C798.4,369.7 789.6,383.2 780.4,400.3 C771.2,417.4 764.6,434.9 754.1,460.7 C743.6,486.5 726.7,530.8 717.6,555.3 C708.5,579.8 705.2,587.1 699.4,607.9 C693.6,628.7 691.9,642.8 683,680 C674.1,717.2 652.4,806.1 646.3,831.3" stroke-width="1.85" stroke-dasharray="60 5 2 5"/>
<line x1="990" y1="291.5" x2="947.5" y2="316.5" stroke-width="2.35" />
<line x1="939" y1="324" x2="930" y2="329" stroke-width="2.35" />
<line x1="921" y1="334" x2="914" y2="338" stroke-width="2.35" />
<line x1="905" y1="343" x2="862.5" y2="369" stroke-width="2.35" />
<line x1="857.5" y1="373" x2="844" y2="381" stroke-width="2.35" />
<path d="M832,396 C829.5,400.2 822.5,410.5 817.2,421.3 C811.9,432.1 802.9,454.4 800,461" stroke-width="1.65" stroke-dasharray="60 5 2 5"/>
<path d="M800,461 C797.7,464.5 790.6,473.5 786,482 C781.4,490.5 778.1,497.8 772.4,512 C766.7,526.2 755.3,557.8 751.9,567" stroke-width="1.85" stroke-dasharray="60 5 2 5"/>
<path d="M752.5,572 C750.5,578 745.2,589.9 740.5,607.9 C735.8,625.9 733.1,643 724.5,680 C715.9,717 694.8,805 688.8,830" stroke-width="1.85" stroke-dasharray="60 5 2 5"/>
<line x1="800" y1="461" x2="812" y2="449" stroke-width="1.65" />
<line x1="984" y1="406" x2="932.5" y2="385" stroke-width="2.25" />
<line x1="932.5" y1="385" x2="891" y2="410" stroke-width="2.25" />
<line x1="884" y1="415" x2="876" y2="419" stroke-width="2.25" />
<line x1="869" y1="424" x2="862.5" y2="428" stroke-width="2.25" />
<line x1="855" y1="431.5" x2="804" y2="459" stroke-width="2.25" />
<line x1="802.7" y1="468.6" x2="865" y2="494" stroke-width="2.25" />
<line x1="876" y1="499" x2="886" y2="503.5" stroke-width="2.25" />
<line x1="899" y1="509" x2="909" y2="512.5" stroke-width="2.25" />
<line x1="920" y1="518" x2="982.5" y2="543" stroke-width="2.25" />
<line x1="751.9" y1="567.9" x2="799.8" y2="589.6" stroke-width="2.25" />
<line x1="806.7" y1="591.9" x2="815.8" y2="596.4" stroke-width="2.25" />
<line x1="824.9" y1="599.9" x2="832.5" y2="603.5" stroke-width="2.25" />
<line x1="841" y1="607" x2="887.5" y2="625.5" stroke-width="2.25" />
<line x1="896" y1="630" x2="904.5" y2="633" stroke-width="2.25" />
<line x1="914" y1="637" x2="921" y2="640" stroke-width="2.25" />
<line x1="930" y1="643" x2="977.5" y2="662.5" stroke-width="2.25" />
<line x1="981" y1="305" x2="955" y2="319" stroke-width="1.55" />
<path d="M962,320 L961,328 L955,332 L956,345" stroke-width="1.75" />
<path d="M953,341 L959,339 L957,346 Z" fill="#1c1c1c" stroke="none"/>
<line x1="953.8" y1="358.3" x2="948.5" y2="387.2" stroke-width="1.65" />
<path d="M849,407 C852,399 857,398 862,401 M855,396 L851,406 L866,409 M866,397 L868,404" stroke-width="1.75" />
<path d="M221.6,696.4 L226,693.6 L238.8,704.4 L238.8,728.4 L234,730.5 L222.8,722 L221.6,708.4 Z" stroke-width="3.45" />
<path d="M231.6,693.2 L259.6,678 L275.5,686.8 L274,690 L243.6,706 L231.6,694.8" stroke-width="3.45" />
<path d="M275.5,686.8 L276.3,708.4 L237.2,730.8" stroke-width="3.45" />
<path d="M240.4,716.4 L273.2,695.6 L278,699.6 L277.1,702 L239.6,724.4" stroke-width="3.05" />
<line x1="240" y1="726" x2="272" y2="708" stroke-width="1.65" />
<line x1="226" y1="695.5" x2="236" y2="706" stroke-width="1.75" />
<path d="M226,706.5 L231,705.5 L231.5,710 L226.5,710.5 Z" fill="#1c1c1c" stroke="none" />
<path d="M226,716 L231,715 L231.5,719.5 L226.5,720 Z" fill="#1c1c1c" stroke="none" />
<path d="M228.4,707.6 C224.5,710.9 213.1,719.6 205,727.5 C196.9,735.4 189.6,745.9 180,755 C170.4,764.1 157.3,776.2 147.7,782.3 C138,788.4 129.2,790 122.1,791.7 C115,793.4 110.9,793 104.9,792.6 C98.9,792.2 89.2,789.8 86.1,789.2" stroke-width="2.85" />
<path d="M229.2,718 C224.3,722.9 209.9,735.5 200,747.5 C190.1,759.5 179,779.9 170,790 C161,800.1 150,805 146,808" stroke-width="2.85" />
<path d="M52.5,784.5 L82.5,793.5 A5.2,5.2 0 0 0 85.5,783.5 L55.5,774.5 A5.2,5.2 0 0 0 52.5,784.5 Z" stroke-width="2.85" />
<line x1="84" y1="788.5" x2="88" y2="789.5" stroke-width="3.95" />
<ellipse cx="122.9" cy="826.4" rx="11" ry="6.4" transform="rotate(-8 122.9 826.4)" stroke-width="2.85" />
<ellipse cx="123" cy="827.5" rx="4.2" ry="2.6" transform="rotate(-8 123 827.5)" stroke-width="2.05" />
<path d="M132.5,822.6 L147,811.6 A3.3,3.3 0 0 0 143,806.4 L128.5,817.4 A3.3,3.3 0 0 0 132.5,822.6 Z" stroke-width="2.85" />
<line x1="122.3" y1="737" x2="122.9" y2="821" stroke-width="1.75" />
<path d="M106.5,713 L118,704.5 L133.5,706.5 L138,716 L134.5,726 L122.5,731 L110,728 L106.5,719 Z" stroke-width="3.05" />
<path d="M106.5,716 L110.5,720 L124,722 L138,716" stroke-width="2.45" />
<line x1="110.5" y1="720" x2="110" y2="728" stroke-width="2.05" />
<line x1="124" y1="722" x2="123.5" y2="731" stroke-width="2.05" />
<ellipse cx="122.4" cy="714.3" rx="8.2" ry="4.6" transform="rotate(5 122.4 714.3)" stroke-width="2.85" />
<line x1="514" y1="44" x2="585" y2="52" stroke-width="3.05" />
<line x1="501" y1="81" x2="588" y2="81" stroke-width="3.05" />
<line x1="545" y1="128" x2="588" y2="119" stroke-width="3.05" />
<line x1="545" y1="216" x2="588" y2="183" stroke-width="3.05" />
<line x1="560" y1="240" x2="588" y2="214" stroke-width="3.05" />
<line x1="634" y1="253" x2="668" y2="222" stroke-width="3.05" />
<line x1="733" y1="274" x2="752" y2="217" stroke-width="3.05" />
<line x1="772" y1="269" x2="804" y2="218" stroke-width="3.05" />
<line x1="776" y1="383" x2="855" y2="219" stroke-width="3.05" />
<line x1="765" y1="810" x2="816" y2="777" stroke-width="3.05" />
<line x1="459" y1="719" x2="496" y2="630" stroke-width="3.05" />
<line x1="401" y1="691" x2="465" y2="612" stroke-width="3.05" />
<line x1="351" y1="664" x2="377" y2="604" stroke-width="3.05" />
<line x1="520" y1="481" x2="682" y2="488" stroke-width="3.05" />
<line x1="524" y1="417" x2="600.5" y2="359" stroke-width="3.05" />
<line x1="466" y1="389" x2="508.5" y2="334.5" stroke-width="3.05" />
<line x1="390" y1="361" x2="413" y2="337" stroke-width="3.05" />
<line x1="318" y1="334" x2="418" y2="280" stroke-width="3.05" />
<line x1="309" y1="265" x2="421" y2="190" stroke-width="5.05" stroke="#f8f8f8"/>
<line x1="309" y1="265" x2="421" y2="190" stroke-width="3.05" />
<line x1="216" y1="615" x2="252" y2="680" stroke-width="3.05" />
<line x1="82" y1="635" x2="116" y2="697" stroke-width="3.05" />
</g>
<text x="591" y="59.3" font-size="21">1</text><text x="590" y="89.3" font-size="21">2</text><text x="588" y="128.3" font-size="21">3</text><text x="589" y="190.3" font-size="21">4</text><text x="590" y="223.3" font-size="21">5</text><text x="671" y="215.3" font-size="21">6</text><text x="748" y="215.3" font-size="21">7</text><text x="801" y="214.3" font-size="21">8</text><text x="856" y="211.3" font-size="21">9</text><text x="745" y="815.3" font-size="21">10</text><text x="441" y="745.3" font-size="21">11</text><text x="384" y="714.3" font-size="21">12</text><text x="339" y="685.3" font-size="21">13</text><text x="496" y="488.3" font-size="21">14</text><text x="500" y="420.3" font-size="21">15</text><text x="455" y="411.3" font-size="21">16</text><text x="378" y="382.3" font-size="21">17</text><text x="295" y="343.3" font-size="21">18</text><text x="286" y="273.3" font-size="21">19</text><text x="200" y="610.3" font-size="21">20</text><text x="65" y="630.3" font-size="21">21</text>
</svg></body></html>
